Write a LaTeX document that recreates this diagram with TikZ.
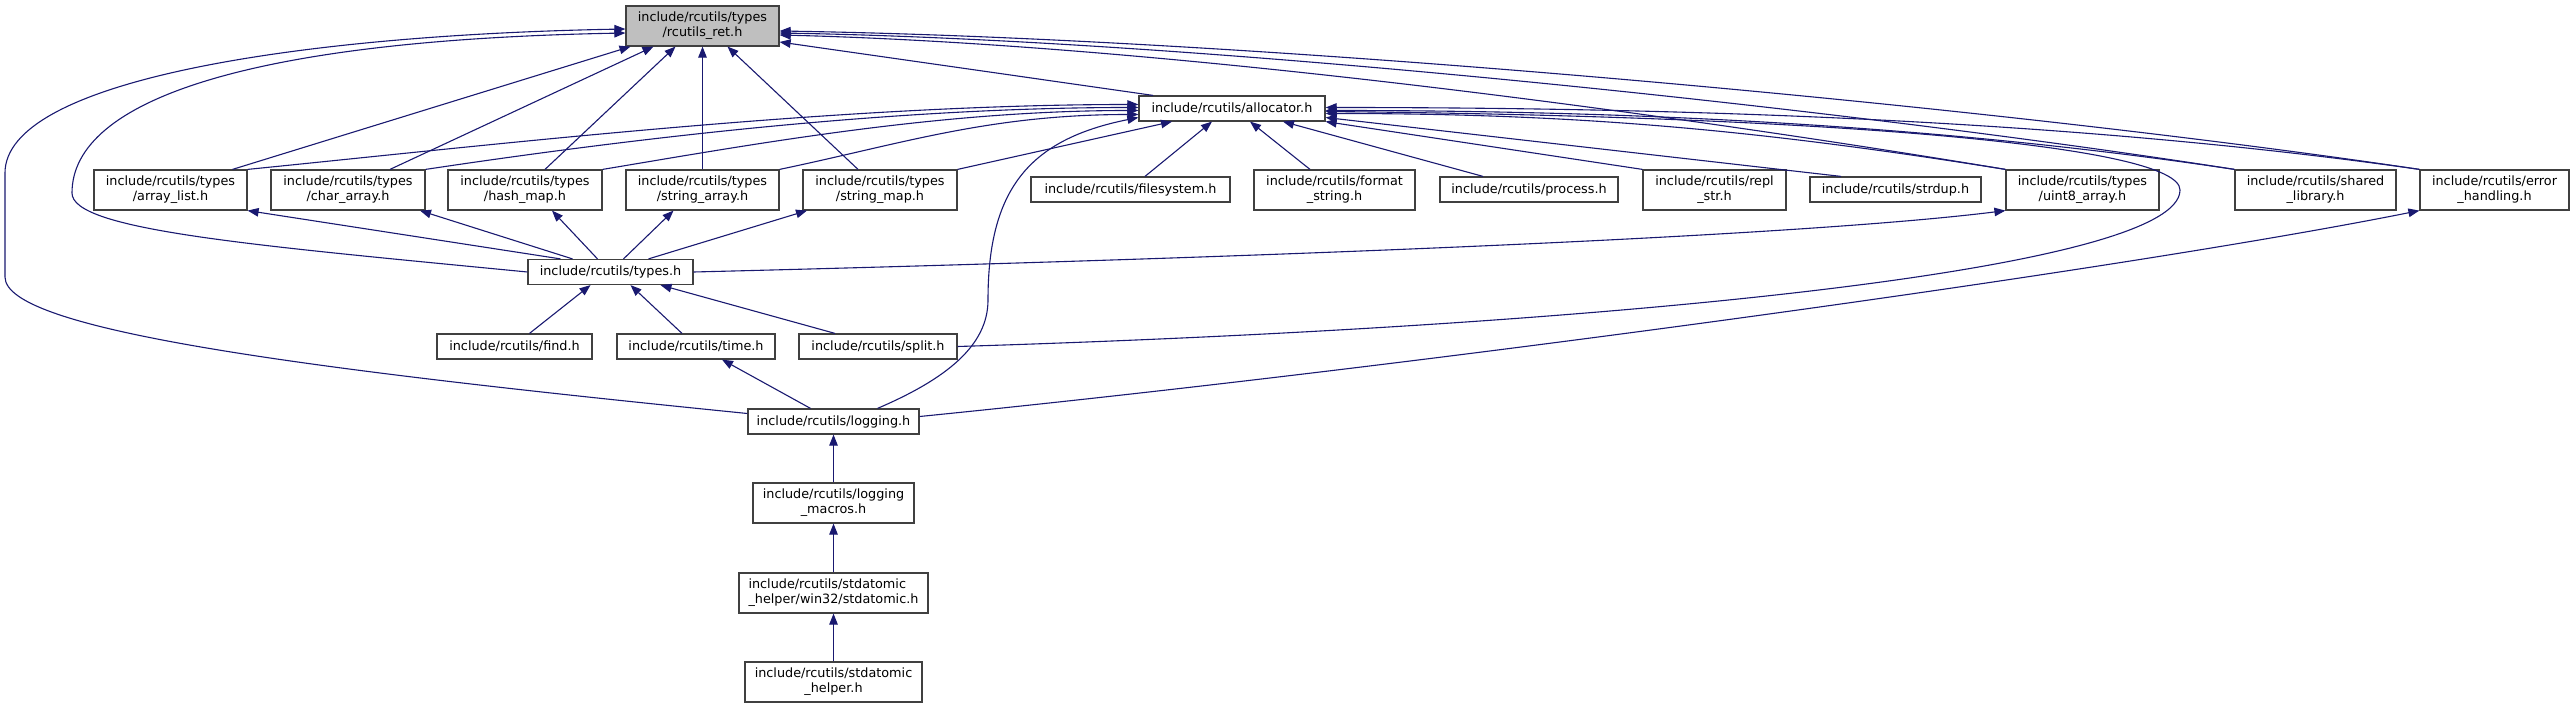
\documentclass[tikz,border=0pt]{standalone}
\usepackage{fontspec}
\setmainfont{DejaVu Sans}
\usetikzlibrary{arrows.meta}
\definecolor{edgeblue}{HTML}{191970}
\definecolor{boxline}{HTML}{404040}
\definecolor{focusfill}{HTML}{BFBFBF}
\tikzset{
  file/.style={draw=boxline, line width=1.2pt, fill=white, inner sep=0pt,
               align=center, font=\fontsize{12.8}{15}\selectfont},
  one/.style={minimum height=25pt},
  two/.style={minimum height=40pt},
  inc/.style={edgeblue, line width=1.1pt, -{Triangle[length=11pt,width=8.5pt]}},
}
\begin{document}
\begin{tikzpicture}[x=1pt, y=-1pt]
  \useasboundingbox (0,0) rectangle (2574,708);

  \node[file, two, fill=focusfill, minimum width=153pt] (ret) at (702.5,26) {include/rcutils/types\\/rcutils\_ret.h};
  \node[file, one, minimum width=186pt] (alloc) at (1232,108.5) {include/rcutils/allocator.h};

  \node[file, two, minimum width=153pt] (arraylist) at (170.5,190) {include/rcutils/types\\/array\_list.h};
  \node[file, two, minimum width=154pt] (chararray) at (348,190) {include/rcutils/types\\/char\_array.h};
  \node[file, two, minimum width=154pt] (hashmap) at (525,190) {include/rcutils/types\\/hash\_map.h};
  \node[file, two, minimum width=153pt] (strarray) at (702.5,190) {include/rcutils/types\\/string\_array.h};
  \node[file, two, minimum width=154pt] (strmap) at (880,190) {include/rcutils/types\\/string\_map.h};
  \node[file, one, minimum width=199pt] (fsys) at (1130.5,189.5) {include/rcutils/filesystem.h};
  \node[file, two, minimum width=161pt] (fmtstr) at (1334.5,190) {include/rcutils/format\\\_string.h};
  \node[file, one, minimum width=178pt] (proc) at (1529,189.5) {include/rcutils/process.h};
  \node[file, two, minimum width=143pt] (replstr) at (1714.5,190) {include/rcutils/repl\\\_str.h};
  \node[file, one, minimum width=171pt] (strdup) at (1895.5,189.5) {include/rcutils/strdup.h};
  \node[file, two, minimum width=153pt] (uint8) at (2082.5,190) {include/rcutils/types\\/uint8\_array.h};
  \node[file, two, minimum width=161pt] (shlib) at (2315.5,190) {include/rcutils/shared\\\_library.h};
  \node[file, two, minimum width=149pt] (errh) at (2494.5,190) {include/rcutils/error\\\_handling.h};

  \node[file, one, minimum width=165pt] (types) at (610.5,272) {include/rcutils/types.h};
  \node[file, one, minimum width=155pt] (find) at (514.5,346.5) {include/rcutils/find.h};
  \node[file, one, minimum width=158pt] (time) at (696,346.5) {include/rcutils/time.h};
  \node[file, one, minimum width=158pt] (split) at (878,346.5) {include/rcutils/split.h};
  \node[file, one, minimum width=171pt] (logging) at (833.5,421.5) {include/rcutils/logging.h};
  \node[file, two, minimum width=161pt] (logmacros) at (833.5,503) {include/rcutils/logging\\\_macros.h};
  \node[file, two, minimum width=189pt, align=left] (win32) at (833.5,593) {include/rcutils/stdatomic\\\_helper/win32/stdatomic.h};
  \node[file, two, minimum width=177pt] (atomichelper) at (833.5,682) {include/rcutils/stdatomic\\\_helper.h};

  % rcutils_ret.h
  \draw[inc] ([xshift=62pt]arraylist.north) -- ([xshift=-72pt]ret.south);
  \draw[inc] ([xshift=42pt]chararray.north) -- ([xshift=-49pt]ret.south);
  \draw[inc] ([xshift=20pt]hashmap.north) -- ([xshift=-27pt]ret.south);
  \draw[inc] (strarray.north) -- (ret.south);
  \draw[inc] ([xshift=-22pt]strmap.north) -- ([xshift=25pt]ret.south);
  \draw[inc] ([xshift=-79pt]alloc.north) -- ([yshift=-16pt]ret.east);
  \draw[inc] (uint8.north west) .. controls +(-300,-50) and +(400,10) .. ([yshift=-9pt]ret.east);
  \draw[inc] (shlib.north west) .. controls +(-350,-55) and +(450,8) .. ([yshift=-7pt]ret.east);
  \draw[inc] (errh.north west) .. controls +(-400,-60) and +(500,8) .. ([yshift=-5pt]ret.east);
  \draw[inc] (types.west) .. controls +(-278,-27) and +(0,37) .. (72,193)
    .. controls +(0,-93) and +(-376,7) .. ([yshift=-7pt]ret.west);
  \draw[inc] ([yshift=8pt]logging.west) .. controls +(-448,-45) and +(0,53) .. (5,277) -- (5,173)
    .. controls +(0,-93) and +(-326,6) .. ([yshift=-3pt]ret.west);

  % allocator.h
  \draw[inc] (arraylist.north east) .. controls +(250,-25) and +(-300,0) .. ([yshift=4pt]alloc.west);
  \draw[inc] (chararray.north east) .. controls +(200,-30) and +(-250,0) .. ([yshift=1pt]alloc.west);
  \draw[inc] (hashmap.north east) .. controls +(150,-25) and +(-200,0) .. ([yshift=-2pt]alloc.west);
  \draw[inc] (strarray.north east) .. controls +(120,-25) and +(-150,0) .. ([yshift=-6pt]alloc.west);
  \draw[inc] (strmap.north east) -- ([xshift=-60pt]alloc.south);
  \draw[inc] ([xshift=44pt]logging.north) .. controls +(70,-30) and +(0,45) .. (988,300)
    .. controls +(0,-110) and +(-110,22) .. ([yshift=-9pt]alloc.west);
  \draw[inc] ([xshift=14.5pt]fsys.north) -- ([xshift=-20pt]alloc.south);
  \draw[inc] ([xshift=-24.5pt]fmtstr.north) -- ([xshift=18pt]alloc.south);
  \draw[inc] ([xshift=-46pt]proc.north) -- ([xshift=51pt]alloc.south);
  \draw[inc] (replstr.north west) -- (alloc.south east);
  \draw[inc] ([xshift=-54.5pt]strdup.north) -- ([yshift=-9pt]alloc.east);
  \draw[inc] (uint8.north west) .. controls +(-250,-40) and +(250,0) .. ([yshift=-5pt]alloc.east);
  \draw[inc] (shlib.north west) .. controls +(-300,-45) and +(300,0) .. ([yshift=-2pt]alloc.east);
  \draw[inc] (errh.north west) .. controls +(-350,-50) and +(350,0) .. ([yshift=1pt]alloc.east);
  \draw[inc] (split.east) .. controls +(650,-20) and +(0,80) .. (2180,190)
    .. controls +(0,-45) and +(500,5) .. ([yshift=-3pt]alloc.east);

  % types.h
  \draw[inc] ([xshift=-50pt]types.north) -- (arraylist.south east);
  \draw[inc] ([xshift=-38pt]types.north) -- ([xshift=72pt]chararray.south);
  \draw[inc] ([xshift=-13pt]types.north) -- ([xshift=27pt]hashmap.south);
  \draw[inc] ([xshift=13pt]types.north) -- ([xshift=-29pt]strarray.south);
  \draw[inc] ([xshift=38pt]types.north) -- ([xshift=-73pt]strmap.south);
  \draw[inc] (types.east) .. controls +(600,-15) and +(-200,25) .. (uint8.south west);
  \draw[inc] ([xshift=15pt]find.north) -- ([xshift=-20pt]types.south);
  \draw[inc] ([xshift=-14pt]time.north) -- ([xshift=20pt]types.south);
  \draw[inc] ([xshift=-43pt]split.north) -- ([xshift=50pt]types.south);

  % logging.h
  \draw[inc] ([xshift=-23pt]logging.north) -- ([xshift=26pt]time.south);
  \draw[inc] ([yshift=5pt]logging.east) .. controls +(500,-50) and +(-300,60) .. (errh.south west);
  \draw[inc] (logmacros.north) -- (logging.south);
  \draw[inc] (win32.north) -- (logmacros.south);
  \draw[inc] (atomichelper.north) -- (win32.south);
\end{tikzpicture}
\end{document}
